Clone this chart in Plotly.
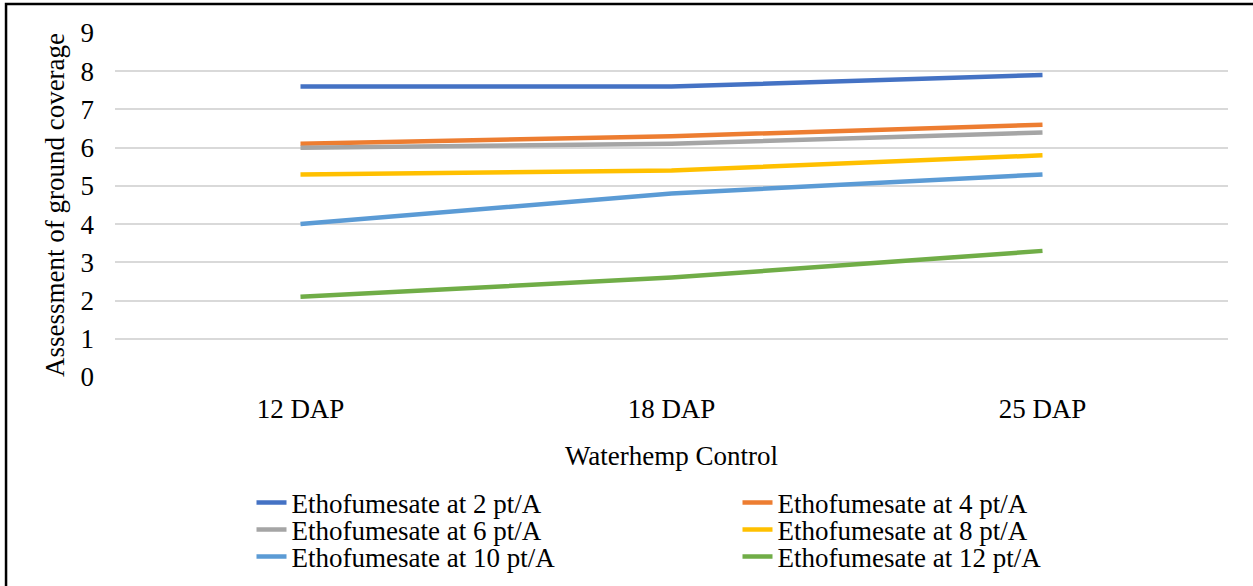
import plotly.graph_objects as go

# Assessment timing categories
categories = ["12 DAP", "18 DAP", "25 DAP"]

# Ground coverage ratings per ethofumesate rate
rate_2pt = [7.6, 7.6, 7.9]
rate_4pt = [6.1, 6.3, 6.6]
rate_6pt = [6.0, 6.1, 6.4]
rate_8pt = [5.3, 5.4, 5.8]
rate_10pt = [4.0, 4.8, 5.3]
rate_12pt = [2.1, 2.6, 3.3]

series_names = [
    "Ethofumesate at 2 pt/A",
    "Ethofumesate at 4 pt/A",
    "Ethofumesate at 6 pt/A",
    "Ethofumesate at 8 pt/A",
    "Ethofumesate at 10 pt/A",
    "Ethofumesate at 12 pt/A",
]
series_values = [rate_2pt, rate_4pt, rate_6pt, rate_8pt, rate_10pt, rate_12pt]
series_colors = ["#4472C4", "#ED7D31", "#A5A5A5", "#FFC000", "#5B9BD5", "#70AD47"]
# two entries per legend row
series_legend = ["legend", "legend", "legend2", "legend2", "legend3", "legend3"]

y_ticks = [0, 1, 2, 3, 4, 5, 6, 7, 8, 9]

FONT = "Liberation Serif"
FS = 27
W, H = 1253, 586

fig = go.Figure()
for name, vals, color, lg in zip(series_names, series_values, series_colors, series_legend):
    fig.add_trace(go.Scatter(
        x=categories, y=vals, name=name, mode="lines",
        line=dict(color=color, width=4.5),
        legend=lg,
    ))


def legend_row(center_px):
    return dict(
        orientation="h",
        xref="container", x=251.5 / W, xanchor="left",
        yref="container", y=1 - center_px / H, yanchor="middle",
        entrywidth=441, entrywidthmode="pixels",
        font=dict(family=FONT, size=FS, color="black"),
        itemwidth=30, bgcolor="rgba(0,0,0,0)", borderwidth=0,
    )


fig.update_layout(
    width=W, height=H,
    margin=dict(l=115, r=25, t=33, b=209, autoexpand=False),
    paper_bgcolor="white", plot_bgcolor="white",
    font=dict(family=FONT, size=FS, color="black"),
    showlegend=True,
    legend=legend_row(503),
    legend2=legend_row(530),
    legend3=legend_row(557),
    xaxis=dict(
        type="category",
        range=[-0.5, 2.5],
        showgrid=False, zeroline=False, showline=False,
        ticks="", ticklabelstandoff=13, automargin=False,
        tickfont=dict(family=FONT, size=FS),
        title=dict(text="Waterhemp Control", standoff=23,
                   font=dict(family=FONT, size=FS)),
    ),
    yaxis=dict(
        range=[0, 9],
        tickvals=y_ticks,
        showgrid=True, gridcolor="#D9D9D9", gridwidth=1.5,
        zeroline=False, showline=False,
        ticks="", ticklabelstandoff=20, automargin=False,
        tickfont=dict(family=FONT, size=FS),
        title=dict(text="Assessment of ground coverage", standoff=8,
                   font=dict(family=FONT, size=FS)),
    ),
)

# Outer frame around the chart
fig.add_shape(
    type="rect", xref="paper", yref="paper",
    x0=-0.0979, x1=1.035, y0=-0.65, y1=1.0843,
    line=dict(color="black", width=2.5),
    fillcolor="rgba(0,0,0,0)", layer="above",
)

fig.write_html("out.html")
